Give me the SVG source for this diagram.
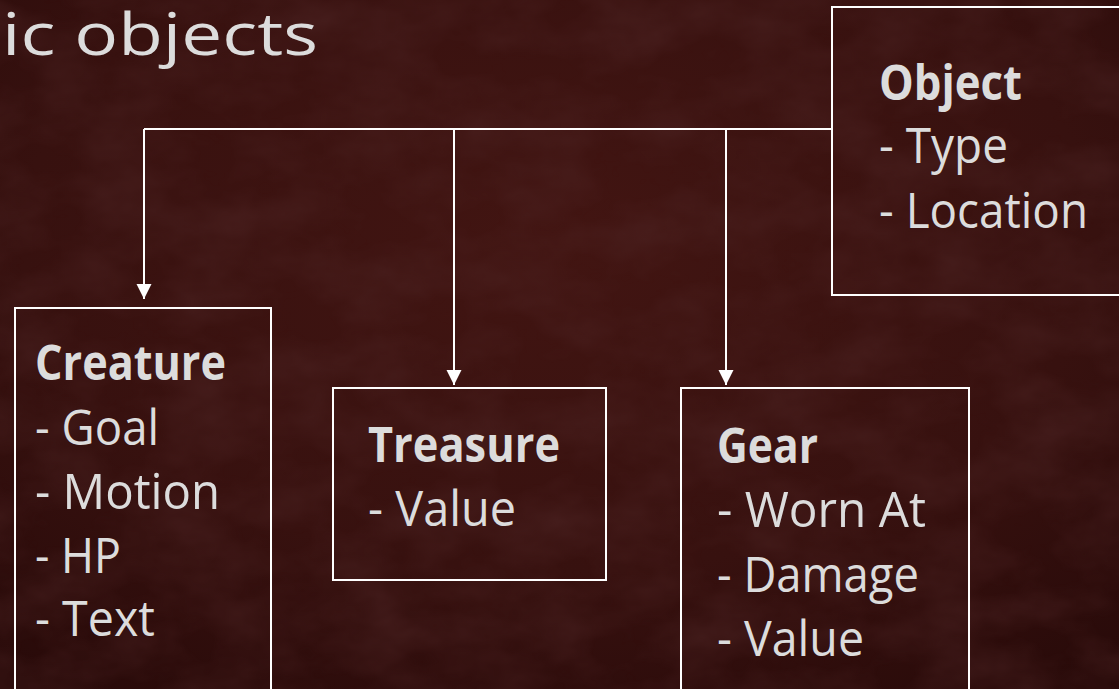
<svg xmlns="http://www.w3.org/2000/svg" width="1119" height="689" viewBox="0 0 1119 689">
<defs>
<style>
.box{fill:none;stroke:#ffffff;stroke-width:2}
.ln{fill:none;stroke:#ffffff;stroke-width:2}
.t{font-family:"Open Sans","Noto Sans","Liberation Sans",sans-serif;font-size:49px;fill:#dcdcdc}
.b{font-weight:bold}
.title{font-family:"Open Sans","Noto Sans","Liberation Sans",sans-serif;font-size:58px;fill:#dcdcdc}
</style>
<marker id="arr" markerUnits="userSpaceOnUse" markerWidth="16" markerHeight="16" refX="15" refY="7.5" orient="auto">
<path d="M0,0 L15,7.5 L0,15 Z" fill="#ffffff"/>
</marker>
<radialGradient id="bg" cx="0.5" cy="0.35" r="0.8">
<stop offset="0" stop-color="#421512"/>
<stop offset="0.6" stop-color="#37110f"/>
<stop offset="1" stop-color="#280a09"/>
</radialGradient>
<filter id="noise" x="0" y="0" width="100%" height="100%">
<feTurbulence type="fractalNoise" baseFrequency="0.012 0.02" numOctaves="4" seed="7"/>
<feColorMatrix type="matrix" values="0 0 0 0 0.08  0 0 0 0 0.02  0 0 0 0 0.02  0 0 0 -1.1 0.75"/>
</filter>
</defs>
<rect width="1119" height="689" fill="url(#bg)"/>
<rect width="1119" height="689" filter="url(#noise)" opacity="0.75"/>
<text class="title" x="2" y="55" textLength="316" lengthAdjust="spacingAndGlyphs">ic objects</text>
<g id="connectors">
<path class="ln" d="M144,129 H832"/>
<path class="ln" d="M144,129 V299" marker-end="url(#arr)"/>
<path class="ln" d="M454,129 V385" marker-end="url(#arr)"/>
<path class="ln" d="M726,129 V385" marker-end="url(#arr)"/>
</g>
<g id="object">
<rect class="box" x="832" y="7" width="300" height="288"/>
<text class="t b" x="879" y="100" textLength="143" lengthAdjust="spacingAndGlyphs">Object</text>
<text class="t" x="879" y="163" textLength="129" lengthAdjust="spacingAndGlyphs">- Type</text>
<text class="t" x="879" y="228" textLength="209" lengthAdjust="spacingAndGlyphs">- Location</text>
</g>
<g id="creature">
<rect class="box" x="15" y="308" width="256" height="400"/>
<text class="t b" x="35" y="380" textLength="191" lengthAdjust="spacingAndGlyphs">Creature</text>
<text class="t" x="35" y="445" textLength="124" lengthAdjust="spacingAndGlyphs">- Goal</text>
<text class="t" x="35" y="509" textLength="185" lengthAdjust="spacingAndGlyphs">- Motion</text>
<text class="t" x="35" y="573" textLength="86" lengthAdjust="spacingAndGlyphs">- HP</text>
<text class="t" x="35" y="636" textLength="120" lengthAdjust="spacingAndGlyphs">- Text</text>
</g>
<g id="treasure">
<rect class="box" x="333" y="388" width="273" height="192"/>
<text class="t b" x="368" y="462" textLength="192" lengthAdjust="spacingAndGlyphs">Treasure</text>
<text class="t" x="368" y="526" textLength="148" lengthAdjust="spacingAndGlyphs">- Value</text>
</g>
<g id="gear">
<rect class="box" x="681" y="388" width="288" height="320"/>
<text class="t b" x="717" y="463" textLength="101" lengthAdjust="spacingAndGlyphs">Gear</text>
<text class="t" x="717" y="527" textLength="209" lengthAdjust="spacingAndGlyphs">- Worn At</text>
<text class="t" x="717" y="592" textLength="202" lengthAdjust="spacingAndGlyphs">- Damage</text>
<text class="t" x="717" y="656" textLength="147" lengthAdjust="spacingAndGlyphs">- Value</text>
</g>
</svg>
